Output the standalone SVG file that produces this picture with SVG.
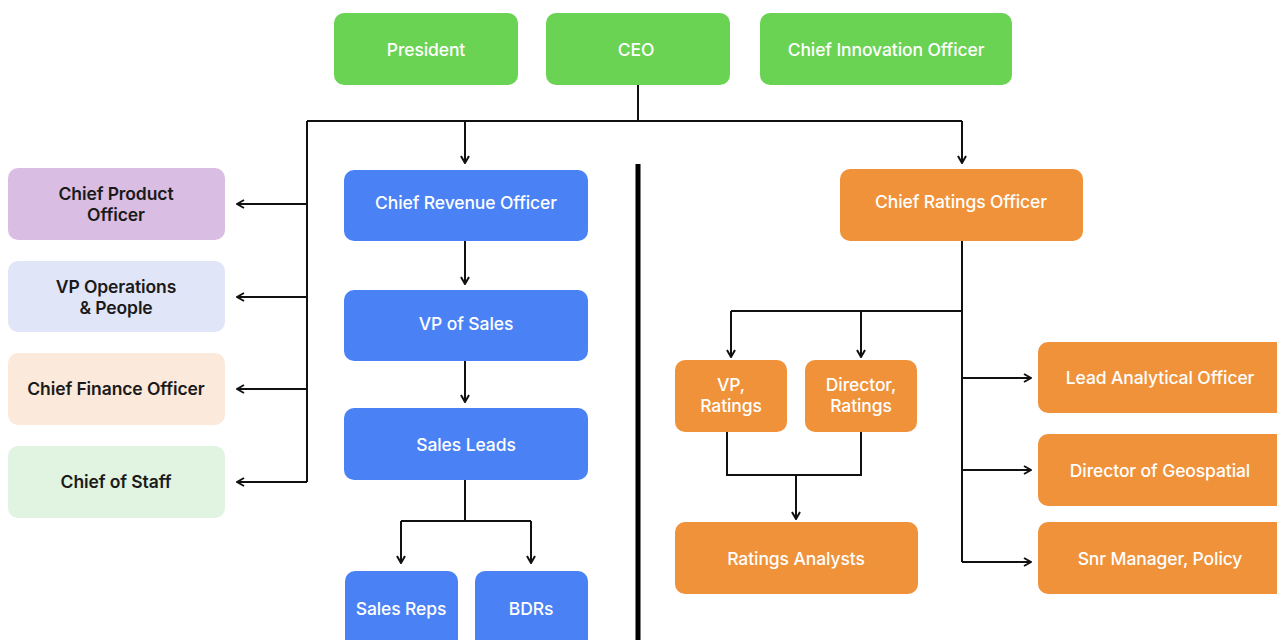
<svg xmlns="http://www.w3.org/2000/svg" width="1277" height="640" viewBox="0 0 1277 640">
<defs>
<marker id="arr" viewBox="0 0 10 10" refX="9" refY="5" markerWidth="10" markerHeight="10" markerUnits="userSpaceOnUse" orient="auto">
<path d="M2,1 L9,5 L2,9" fill="none" stroke="#111" stroke-width="2"/>
</marker>
<style>
.g{fill:#6AD354}.b{fill:#4A82F6}.o{fill:#F0923A}
.t{font-family:Inter,"Noto Sans",sans-serif;font-size:17.5px;font-weight:500;fill:#fff;text-anchor:middle;letter-spacing:-0.1px}
.d{fill:#1a1a1a;font-weight:600}
.c{fill:none;stroke:#111;stroke-width:2}
</style>
</defs>
<rect width="1277" height="640" fill="#fff"/>
<g id="connectors">
<path class="c" d="M638,85 V121 M307,121 H962 M307,121 V482"/>
<path class="c" d="M465,121 V163" marker-end="url(#arr)"/>
<path class="c" d="M962,121 V163" marker-end="url(#arr)"/>
<path class="c" d="M307,204 H237" marker-end="url(#arr)"/>
<path class="c" d="M307,297 H237" marker-end="url(#arr)"/>
<path class="c" d="M307,389 H237" marker-end="url(#arr)"/>
<path class="c" d="M307,482 H237" marker-end="url(#arr)"/>
<path class="c" d="M465,241 V284" marker-end="url(#arr)"/>
<path class="c" d="M465,361 V402" marker-end="url(#arr)"/>
<path class="c" d="M465,480 V521 M401,521 H531"/>
<path class="c" d="M401,521 V563" marker-end="url(#arr)"/>
<path class="c" d="M531,521 V563" marker-end="url(#arr)"/>
<path class="c" d="M962,241 V562 M731,311 H962"/>
<path class="c" d="M731,311 V357" marker-end="url(#arr)"/>
<path class="c" d="M861,311 V357" marker-end="url(#arr)"/>
<path class="c" d="M727,432 V475 H861 V432"/>
<path class="c" d="M796,475 V519" marker-end="url(#arr)"/>
<path class="c" d="M962,378 H1031" marker-end="url(#arr)"/>
<path class="c" d="M962,470 H1031" marker-end="url(#arr)"/>
<path class="c" d="M962,562 H1031" marker-end="url(#arr)"/>
<line x1="638" y1="164" x2="638" y2="640" stroke="#000" stroke-width="5"/>
</g>
<g id="president"><rect class="g" x="334" y="13" width="184" height="72" rx="10"/><text class="t" x="426" y="56">President</text></g>
<g id="ceo"><rect class="g" x="546" y="13" width="184" height="72" rx="10"/><text class="t" x="636" y="56">CEO</text></g>
<g id="cino"><rect class="g" x="760" y="13" width="252" height="72" rx="10"/><text class="t" x="886" y="56">Chief Innovation Officer</text></g>
<g id="cpo"><rect x="8" y="168" width="217" height="72" rx="10" fill="#D9BDE2"/><text class="t d" x="116" y="200">Chief Product</text><text class="t d" x="116" y="221">Officer</text></g>
<g id="vpops"><rect x="8" y="261" width="217" height="71" rx="10" fill="#E1E5F8"/><text class="t d" x="116" y="293">VP Operations</text><text class="t d" x="116" y="314">&amp; People</text></g>
<g id="cfo"><rect x="8" y="353" width="217" height="72" rx="10" fill="#FBE9DB"/><text class="t d" x="116" y="395">Chief Finance Officer</text></g>
<g id="cos"><rect x="8" y="446" width="217" height="72" rx="10" fill="#E1F4E1"/><text class="t d" x="116" y="488">Chief of Staff</text></g>
<g id="cro"><rect class="b" x="344" y="170" width="244" height="71" rx="10"/><text class="t" x="466" y="209">Chief Revenue Officer</text></g>
<g id="vpsales"><rect class="b" x="344" y="290" width="244" height="71" rx="10"/><text class="t" x="466" y="330">VP of Sales</text></g>
<g id="salesleads"><rect class="b" x="344" y="408" width="244" height="72" rx="10"/><text class="t" x="466" y="451">Sales Leads</text></g>
<g id="salesreps"><rect class="b" x="345" y="571" width="113" height="80" rx="10"/><text class="t" x="401" y="615">Sales Reps</text></g>
<g id="bdrs"><rect class="b" x="475" y="571" width="113" height="80" rx="10"/><text class="t" x="531" y="615">BDRs</text></g>
<g id="crato"><rect class="o" x="840" y="169" width="243" height="72" rx="10"/><text class="t" x="961" y="208">Chief Ratings Officer</text></g>
<g id="vpratings"><rect class="o" x="675" y="360" width="112" height="72" rx="10"/><text class="t" x="731" y="391">VP,</text><text class="t" x="731" y="412">Ratings</text></g>
<g id="dirratings"><rect class="o" x="805" y="360" width="112" height="72" rx="10"/><text class="t" x="861" y="391">Director,</text><text class="t" x="861" y="412">Ratings</text></g>
<g id="analysts"><rect class="o" x="675" y="522" width="243" height="72" rx="10"/><text class="t" x="796" y="565">Ratings Analysts</text></g>
<g id="lao"><rect class="o" x="1038" y="342" width="252" height="71" rx="10"/><text class="t" x="1160" y="384">Lead Analytical Officer</text></g>
<g id="geo"><rect class="o" x="1038" y="434" width="252" height="72" rx="10"/><text class="t" x="1160" y="477">Director of Geospatial</text></g>
<g id="policy"><rect class="o" x="1038" y="522" width="252" height="72" rx="10"/><text class="t" x="1160" y="565">Snr Manager, Policy</text></g>
</svg>
